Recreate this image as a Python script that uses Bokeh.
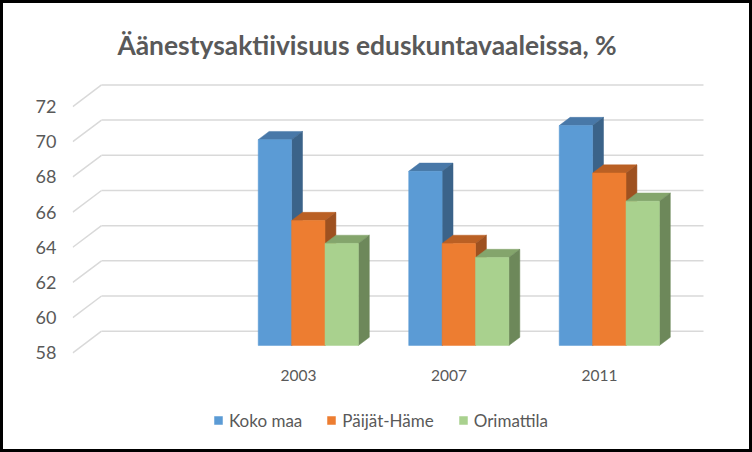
from bokeh.plotting import figure
from bokeh.models import FixedTicker, Legend, LegendItem, Range1d
from bokeh.core.properties import value
from bokeh.embed import file_html
from bokeh.resources import INLINE

# ---- data ----
title_text = "Äänestysaktiivisuus eduskuntavaaleissa, %"
years = ["2003", "2007", "2011"]
series_names = ["Koko maa", "Päijät-Häme", "Orimattila"]
koko_maa = [69.7, 67.9, 70.5]
paijat_hame = [65.1, 63.8, 67.8]
orimattila = [63.8, 63.0, 66.2]
y_ticks = [58, 60, 62, 64, 66, 68, 70, 72]

# ---- styles / geometry (pixels of the reference picture) ----
front_colors = ["#5B9BD5", "#ED7D31", "#A9D18E"]
top_colors = ["#4878A8", "#BA6024", "#84A56C"]
side_colors = ["#3B6389", "#9E5120", "#6D885A"]
text_color = "#595959"
grid_color = "#D9D9D9"

BW = 3                      # css border width (border-box)
W, H = 752, 452
OFF = BW                    # figure pixel = reference pixel - OFF
F_LEFT, F_RIGHT, F_TOP, F_BOTTOM = 72, 745, 4, 445   # frame in reference px
ML, MR, MT, MB = F_LEFT - OFF, W - (F_RIGHT - OFF), F_TOP - OFF, H - (F_BOTTOM - OFF)
X0_PX, BASE_PX = 72.3, 352.3   # front-plane origin (slot 0, value 58)
PX_X = 150.5   # pixels per category slot
PX_Y = 17.59   # pixels per value unit
DX = 28.7 / PX_X   # depth offset (x, data units)
DY = 21.6 / PX_Y   # depth offset (y, data units)
D0, D1 = 0.34, 0.72  # bar depth start / end (fraction of depth)
BAR_W = 33.4 / PX_X
N_SLOTS = 4          # first slot is empty
BASE = y_ticks[0]


def dx(px):
    return (px - X0_PX) / PX_X


def dy(py):
    return BASE + (BASE_PX - py) / PX_Y


p = figure(width=W, height=H, output_backend="svg", toolbar_location=None,
           x_range=Range1d(dx(F_LEFT), dx(F_RIGHT)),
           y_range=Range1d(dy(F_BOTTOM), dy(F_TOP)),
           min_border_left=ML, min_border_right=MR,
           min_border_top=MT, min_border_bottom=MB)
p.styles = {"border": f"{BW}px solid black"}
p.outline_line_color = None
p.xgrid.visible = False
p.ygrid.visible = False
p.xaxis.visible = False
p.background_fill_color = "white"
p.border_fill_color = "white"

# back wall gridlines + diagonal lines
p.segment(x0=[0] * len(y_ticks), y0=y_ticks,
          x1=[DX] * len(y_ticks), y1=[v + DY for v in y_ticks],
          line_color=grid_color, line_width=1.5)
p.segment(x0=[DX] * len(y_ticks), y0=[v + DY for v in y_ticks],
          x1=[N_SLOTS + DX] * len(y_ticks), y1=[v + DY for v in y_ticks],
          line_color=grid_color, line_width=1.5)

items = []
all_values = [koko_maa, paijat_hame, orimattila]
for j, vals in enumerate(all_values):
    lefts, rights, bottoms, tops = [], [], [], []
    top_xs, top_ys, side_xs, side_ys = [], [], [], []
    for k, v in enumerate(vals):
        center = k + 1 + 0.5
        l = center + D0 * DX - 1.5 * BAR_W + j * BAR_W
        r = l + BAR_W
        b = BASE + D0 * DY
        t = v + D0 * DY
        ddx = (D1 - D0) * DX
        ddy = (D1 - D0) * DY
        lefts.append(l); rights.append(r); bottoms.append(b); tops.append(t)
        top_xs.append([l, r, r + ddx, l + ddx])
        top_ys.append([t, t, t + ddy, t + ddy])
        side_xs.append([r, r + ddx, r + ddx, r])
        side_ys.append([b, b + ddy, t + ddy, t])
    p.patches(top_xs, top_ys, fill_color=top_colors[j], line_color=top_colors[j], line_width=0.5)
    p.patches(side_xs, side_ys, fill_color=side_colors[j], line_color=side_colors[j], line_width=0.5)
    fr = p.quad(left=lefts, right=rights, bottom=bottoms, top=tops,
                fill_color=front_colors[j], line_color=front_colors[j], line_width=0.5)
    items.append(LegendItem(label=series_names[j], renderers=[fr]))

# category labels (front plane, below the floor)
xt = [k + 1 + 0.5 for k in range(len(years))]
p.text(x=xt, y=[dy(374.5)] * len(years), text=years,
       text_align="center", text_baseline="middle",
       text_font=value("Lato"), text_font_size="15.5px", text_color=text_color)

# title
p.text(x=[dx(366.5)], y=[dy(44.3)], text=[title_text],
       text_align="center", text_baseline="alphabetic",
       text_font=value("Lato"), text_font_style="bold",
       text_font_size="26.4px", text_color=text_color)

# value axis
p.yaxis.ticker = FixedTicker(ticks=y_ticks)
p.yaxis.axis_line_color = None
p.yaxis.major_tick_line_color = None
p.yaxis.minor_tick_line_color = None
p.yaxis.major_tick_out = 0
p.yaxis.major_tick_in = 0
p.yaxis.major_label_standoff = 16
p.yaxis.major_label_text_font = "Lato"
p.yaxis.major_label_text_font_size = "18px"
p.yaxis.major_label_text_color = text_color

legend = Legend(items=items, orientation="horizontal",
                location=(213 - F_LEFT, F_BOTTOM - 430.5),
                glyph_width=10, glyph_height=10, label_standoff=6, spacing=24,
                label_text_font="Lato", label_text_font_size="17px",
                label_text_color=text_color, border_line_color=None,
                background_fill_alpha=0, padding=0, margin=0)
p.add_layout(legend)

open("out.html", "w").write(file_html(p, INLINE))
